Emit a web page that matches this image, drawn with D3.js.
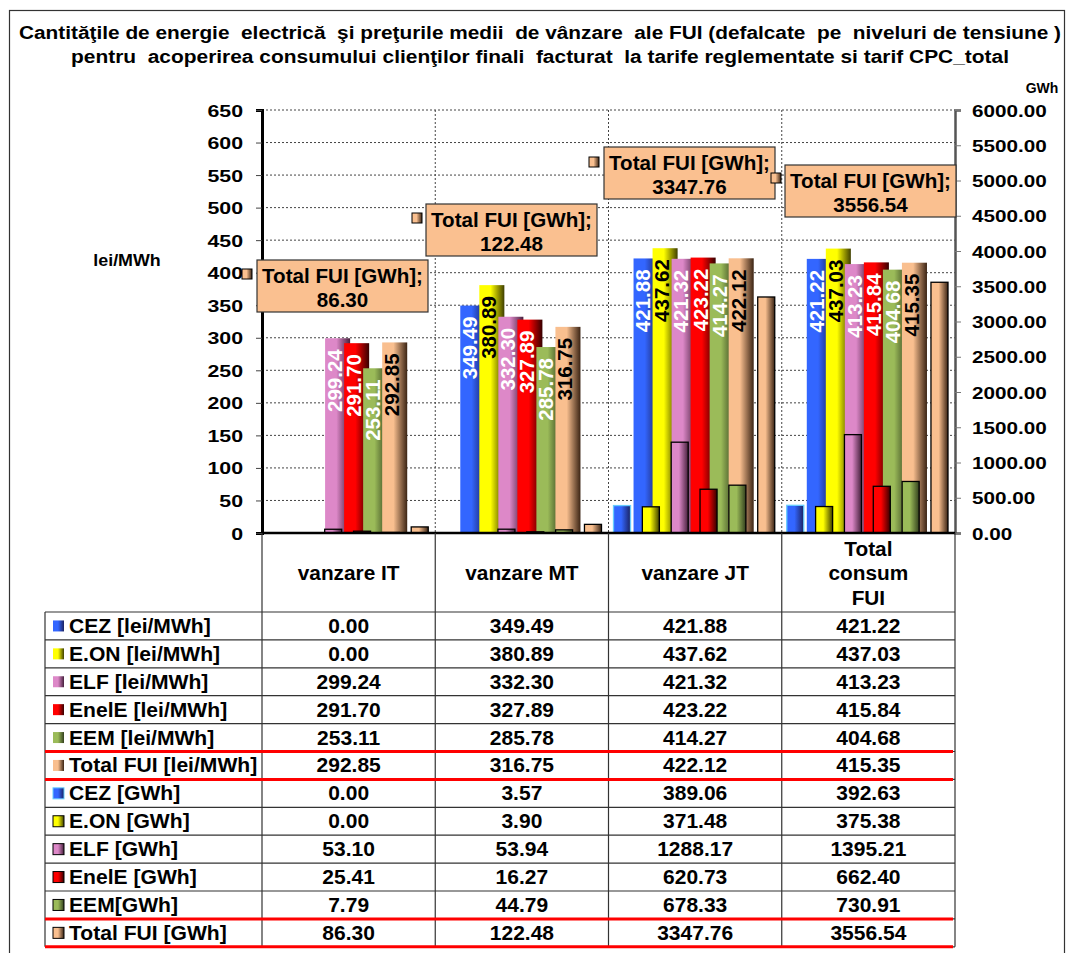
<!DOCTYPE html>
<html><head><meta charset="utf-8">
<script src="https://cdn.jsdelivr.net/npm/d3@7"></script>
<style>
body{margin:0;background:#fff}
svg text{font-family:"Liberation Sans",Arial,sans-serif;font-weight:bold;white-space:pre}
</style></head>
<body><svg id="c" width="1068" height="953"></svg>
<script>
// ---------- DATA ----------
const categories = ["vanzare IT","vanzare MT","vanzare JT","Total consum FUI"];
const categoryLines = [["vanzare IT"],["vanzare MT"],["vanzare JT"],["Total","consum","FUI"]];
const seriesNames = ["CEZ","E.ON","ELF","EnelE","EEM","Total FUI"];
const priceRowLabels = ["CEZ [lei/MWh]","E.ON [lei/MWh]","ELF [lei/MWh]","EnelE [lei/MWh]","EEM [lei/MWh]","Total FUI [lei/MWh]"];
const energyRowLabels = ["CEZ [GWh]","E.ON [GWh]","ELF [GWh]","EnelE [GWh]","EEM[GWh]","Total FUI [GWh]"];

const priceCEZ   = [0.00, 349.49, 421.88, 421.22];
const priceEON   = [0.00, 380.89, 437.62, 437.03];
const priceELF   = [299.24, 332.30, 421.32, 413.23];
const priceEnelE = [291.70, 327.89, 423.22, 415.84];
const priceEEM   = [253.11, 285.78, 414.27, 404.68];
const priceTotal = [292.85, 316.75, 422.12, 415.35];

const energyCEZ   = [0.00, 3.57, 389.06, 392.63];
const energyEON   = [0.00, 3.90, 371.48, 375.38];
const energyELF   = [53.10, 53.94, 1288.17, 1395.21];
const energyEnelE = [25.41, 16.27, 620.73, 662.40];
const energyEEM   = [7.79, 44.79, 678.33, 730.91];
const energyTotal = [86.30, 122.48, 3347.76, 3556.54];

const leftTicks  = [0,50,100,150,200,250,300,350,400,450,500,550,600,650];
const rightTicks = [0,500,1000,1500,2000,2500,3000,3500,4000,4500,5000,5500,6000];

const titleLines = [
  "Cantităţile de energie  electrică  şi preţurile medii  de vânzare  ale FUI (defalcate  pe  niveluri de tensiune )",
  "pentru  acoperirea consumului clienţilor finali  facturat  la tarife reglementate si tarif CPC_total"
];
const leftUnit = "lei/MWh", rightUnit = "GWh";

const prices  = [priceCEZ, priceEON, priceELF, priceEnelE, priceEEM, priceTotal];
const energies = [energyCEZ, energyEON, energyELF, energyEnelE, energyEEM, energyTotal];

// ---------- STYLE ----------
const baseCol = ["#3366FF","#FFFF00","#DD88C8","#FF0000","#9BBB59","#F9BF8F"];
const darkCol = ["#1B2260","#3F3F00","#46203C","#360000","#33401E","#3B2414"];
const labelCol = ["#fff","#000","#fff","#fff","#fff","#000"];
const enStroke = ["#66CCFF","#000","#000","#000","#000","#000"];

const svg = d3.select("#c");
const P = {l:262, r:955, t:110, b:533};

const defs = svg.append("defs");
baseCol.forEach((c,i)=>{
  const g = defs.append("linearGradient").attr("id","g"+i).attr("x1",0).attr("x2",1).attr("y1",0).attr("y2",0);
  g.append("stop").attr("offset","0%").attr("stop-color",c);
  g.append("stop").attr("offset","45%").attr("stop-color",c);
  g.append("stop").attr("offset","100%").attr("stop-color",darkCol[i]);
});

// helper: horizontally stretched text
function stext(parent, x, y, str, size, sx, anchor){
  return parent.append("text").attr("transform",`translate(${x},${y}) scale(${sx},1)`)
    .attr("text-anchor",anchor||"start").attr("font-size",size).text(str);
}

// outer frame
svg.append("rect").attr("x",9.5).attr("y",10.5).attr("width",1055).attr("height",960)
  .attr("fill","none").attr("stroke","#333").attr("stroke-width",1.2);

// title
titleLines.forEach((t,i)=>{
  svg.append("text").attr("x",540).attr("y",39+i*24).attr("text-anchor","middle")
    .attr("font-size",17.5).attr("textLength", i===0?1042:938).attr("lengthAdjust","spacingAndGlyphs").text(t);
});

// scales
const x = d3.scaleBand().domain(categories).range([P.l,P.r]);
const yL = d3.scaleLinear().domain([0,650]).range([P.b,P.t]);
const yR = d3.scaleLinear().domain([0,6000]).range([P.b,P.t]);
const bw = x.bandwidth(), k = bw/173;
const pOff = i => (25+19*i)*k, pW = 25*k, slot = 19*k;
const eOff = i => (5+28.8*i)*k, eW = 17*k;

// gridlines
svg.append("g").selectAll("line").data(leftTicks.filter(d=>d>0)).join("line")
  .attr("x1",P.l).attr("x2",P.r).attr("y1",d=>yL(d)).attr("y2",d=>yL(d))
  .attr("stroke","#444").attr("stroke-width",1).attr("stroke-dasharray","2,2");
svg.append("g").selectAll("line").data(categories.slice(1)).join("line")
  .attr("x1",d=>x(d)).attr("x2",d=>x(d)).attr("y1",P.t).attr("y2",P.b)
  .attr("stroke","#444").attr("stroke-width",1).attr("stroke-dasharray","2,2");

// price bars
const gBars = svg.append("g");
categories.forEach((c,ci)=>{
  prices.forEach((s,si)=>{
    const v = s[ci];
    if (v<=0) return;
    gBars.append("rect").attr("x",x(c)+pOff(si)).attr("width",pW)
      .attr("y",yL(v)).attr("height",P.b-yL(v)).attr("fill",`url(#g${si})`);
  });
});
// energy bars (secondary axis, in front)
categories.forEach((c,ci)=>{
  energies.forEach((s,si)=>{
    const v = s[ci];
    gBars.append("rect").attr("x",x(c)+eOff(si)).attr("width",eW)
      .attr("y",yR(v)).attr("height",Math.max(0,P.b-yR(v))).attr("fill",`url(#g${si})`)
      .attr("stroke",enStroke[si]).attr("stroke-width",v>0?1.3:0);
  });
});
// value labels (rotated)
categories.forEach((c,ci)=>{
  prices.forEach((s,si)=>{
    const v = s[ci];
    if (v<=0) return;
    const cx = x(c)+pOff(si)+slot/2, ty = yL(v)+11;
    gBars.append("text").attr("transform",`translate(${cx},${ty}) rotate(-90)`)
      .attr("text-anchor","end").attr("dy","0.36em").attr("font-size",20.5)
      .attr("fill",labelCol[si]).text(v.toFixed(2));
  });
});

// axes
const axL = svg.append("g").attr("transform",`translate(${P.l},0)`)
  .call(d3.axisLeft(yL).tickValues(leftTicks).tickSize(6).tickFormat(d3.format("d")));
axL.attr("font-family",null).attr("font-size",null);
axL.select(".domain").attr("stroke","#000").attr("stroke-width",3);
axL.selectAll(".tick line").attr("stroke","#444");
axL.selectAll(".tick text").attr("x",0).attr("dy",null).attr("fill","#000").attr("font-size",16.8)
  .attr("transform","translate(-19,6) scale(1.27,1)").attr("text-anchor","end");

const axR = svg.append("g").attr("transform",`translate(${P.r},0)`)
  .call(d3.axisRight(yR).tickValues(rightTicks).tickSize(6).tickFormat(d3.format(".2f")));
axR.attr("font-family",null).attr("font-size",null);
axR.select(".domain").attr("stroke","#555").attr("stroke-width",2.5);
axR.selectAll(".tick line").attr("stroke","#777");
axR.selectAll(".tick text").attr("x",0).attr("dy",null).attr("fill","#000").attr("font-size",16.8)
  .attr("transform","translate(17,6) scale(1.23,1)").attr("text-anchor","start");

svg.append("line").attr("x1",P.l).attr("x2",P.r).attr("y1",P.b).attr("y2",P.b)
  .attr("stroke","#000").attr("stroke-width",2.5);

// axis units
stext(svg, 127, 266, leftUnit, 17, 1.05, "middle");
svg.append("text").attr("x",1042).attr("y",93).attr("text-anchor","middle").attr("font-size",14).text(rightUnit);

// callouts for Total FUI [GWh]
const calloutKey = [[242,269],[412,213],[589,157],[771,173]];
const calloutBox = [[257,260],[426,204],[604,147],[785,165]];
categories.forEach((c,ci)=>{
  const [kx,ky] = calloutKey[ci], [bx,by] = calloutBox[ci];
  svg.append("rect").attr("x",kx).attr("y",ky).attr("width",10).attr("height",10)
    .attr("fill","url(#g5)").attr("stroke","#000").attr("stroke-width",1);
  svg.append("rect").attr("x",bx).attr("y",by).attr("width",171).attr("height",52)
    .attr("fill","#FAC090").attr("stroke","#333").attr("stroke-width",1.2);
  stext(svg, bx+85.5, by+23, seriesNames[5]+" [GWh];", 20, 1.03, "middle");
  stext(svg, bx+85.5, by+47, energyTotal[ci].toFixed(2), 20, 1.03, "middle");
});

// ---------- DATA TABLE ----------
const T = {l:45, top:612, rh:27.9};
const rowY = i => T.top + i*T.rh;
const tbl = svg.append("g");
[P.l, ...categories.slice(1).map(c=>x(c)), P.r].forEach(xx=>{
  tbl.append("line").attr("x1",xx).attr("x2",xx).attr("y1",P.b).attr("y2",rowY(12))
    .attr("stroke","#333").attr("stroke-width",1.2);
});
tbl.append("line").attr("x1",T.l).attr("x2",T.l).attr("y1",rowY(0)).attr("y2",rowY(12))
  .attr("stroke","#333").attr("stroke-width",1.2);
d3.range(13).forEach(i=>{
  tbl.append("line").attr("x1",T.l).attr("x2",P.r).attr("y1",rowY(i)).attr("y2",rowY(i))
    .attr("stroke","#333").attr("stroke-width",1.2);
});
categoryLines.forEach((lines,ci)=>{
  const cx = x(categories[ci])+bw/2;
  const n = lines.length;
  lines.forEach((ln,li)=>{
    stext(tbl, cx, 573+(li-(n-1)/2)*24.5+7, ln, 20, 1.04, "middle");
  });
});
const rows = [];
priceRowLabels.forEach((lab,si)=>rows.push({lab, vals:prices[si], si, energy:false}));
energyRowLabels.forEach((lab,si)=>rows.push({lab, vals:energies[si], si, energy:true}));
rows.forEach((r,ri)=>{
  const cy = rowY(ri)+T.rh/2;
  tbl.append("rect").attr("x",53).attr("y",cy-5.5).attr("width",11).attr("height",11)
    .attr("fill",`url(#g${r.si})`).attr("stroke", r.energy?enStroke[r.si]:"none").attr("stroke-width",1);
  stext(tbl, 69, cy+7, r.lab, 20, 1.055, "start");
  r.vals.forEach((v,ci)=>{
    stext(tbl, x(categories[ci])+bw/2, cy+7, v.toFixed(2), 20, 1.05, "middle");
  });
});
[5,6,11,12].forEach(i=>{
  tbl.append("line").attr("x1",T.l).attr("x2",P.r-2).attr("y1",rowY(i)).attr("y2",rowY(i))
    .attr("stroke","#FF0000").attr("stroke-width",3);
});
</script></body></html>
